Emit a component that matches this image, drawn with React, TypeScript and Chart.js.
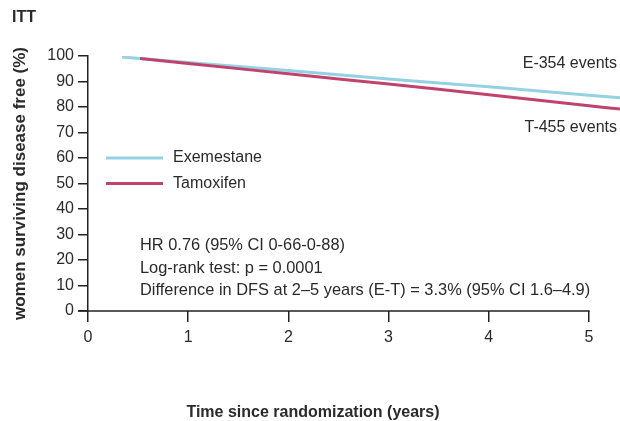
import React, { useEffect, useRef } from "react";
import { Chart, registerables } from "chart.js";

Chart.register(...registerables);

const exeTimes = [0.34, 1, 2, 3, 4, 5, 5.31];
const exeValues = [99.6, 97.5, 94.3, 91.0, 87.9, 84.6, 83.6];
const tamTimes = [0.52, 1, 2, 3, 4, 5, 5.31];
const tamValues = [99.0, 97.1, 93.0, 89.0, 84.8, 80.5, 79.2];

const seriesNames = ["Exemestane", "Tamoxifen"];
const seriesColors = ["#93d2e3", "#c0436e"];
const eventLabels = ["E-354 events", "T-455 events"];
const statLines = [
  "HR 0.76 (95% CI 0-66-0-88)",
  "Log-rank test: p = 0.0001",
  "Difference in DFS at 2–5 years (E-T) = 3.3% (95% CI 1.6–4.9)",
];
const xTicks = [0, 1, 2, 3, 4, 5];
const yTicks = [0, 10, 20, 30, 40, 50, 60, 70, 80, 90, 100];
const xAxisEnd = 5;
const xScaleMax = 5.31;
const panelTitle = "ITT";
const xTitle = "Time since randomization (years)";
const yTitle = "women surviving disease free (%)";

const FONT = "'Liberation Sans', Arial, Helvetica, sans-serif";
const TEXT = "#2a2a2a";
const AXIS = "#222";

const textPlugin = {
  id: "texts",
  afterDraw(chart: any) {
    const ctx = chart.ctx;
    const x = chart.scales.x;
    const y = chart.scales.y;
    ctx.save();
    // x axis line from y-axis to last tick
    ctx.strokeStyle = AXIS;
    ctx.lineWidth = 1.5;
    ctx.beginPath();
    ctx.moveTo(x.getPixelForValue(0) - 10, y.getPixelForValue(0));
    ctx.lineTo(x.getPixelForValue(xAxisEnd) + 0.75, y.getPixelForValue(0));
    ctx.stroke();

    ctx.fillStyle = TEXT;
    ctx.textBaseline = "middle";
    // panel title
    ctx.font = `bold 16px ${FONT}`;
    ctx.textAlign = "left";
    ctx.fillText(panelTitle, 12, 18);
    // y title
    ctx.save();
    ctx.translate(20, (y.top + y.bottom) / 2);
    ctx.rotate(-Math.PI / 2);
    ctx.textAlign = "center";
    ctx.font = `bold 17px ${FONT}`;
    ctx.fillText(yTitle, 0, 0);
    ctx.restore();
    // x title
    ctx.font = `bold 16px ${FONT}`;
    ctx.textAlign = "center";
    ctx.fillText(xTitle, 313, 413);
    // legend
    const legendYs = [y.getPixelForValue(60), y.getPixelForValue(50)];
    seriesNames.forEach((name, i) => {
      ctx.strokeStyle = seriesColors[i];
      ctx.lineWidth = 3;
      ctx.beginPath();
      ctx.moveTo(106, legendYs[i]);
      ctx.lineTo(163, legendYs[i]);
      ctx.stroke();
      ctx.font = `16px ${FONT}`;
      ctx.textAlign = "left";
      ctx.fillStyle = TEXT;
      ctx.fillText(name, 173, legendYs[i]);
    });
    // event labels
    ctx.textAlign = "right";
    ctx.font = `16px ${FONT}`;
    ctx.fillText(eventLabels[0], 617, 64);
    ctx.fillText(eventLabels[1], 617, 128);
    // stats
    ctx.textAlign = "left";
    ctx.font = `16.4px ${FONT}`;
    const statYs = [245, 268, 290];
    statLines.forEach((s, i) => ctx.fillText(s, 140, statYs[i]));
    ctx.restore();
  },
};

export default function App() {
  const ref = useRef<HTMLCanvasElement | null>(null);
  useEffect(() => {
    if (!ref.current) return;
    const chart = new Chart(ref.current, {
      type: "line",
      data: {
        datasets: [
          {
            label: seriesNames[1],
            data: tamTimes.map((t, i) => ({ x: t, y: tamValues[i] })),
            borderColor: seriesColors[1],
            borderWidth: 3,
            pointRadius: 0,
            tension: 0.3,
            order: 0,
          },
          {
            label: seriesNames[0],
            data: exeTimes.map((t, i) => ({ x: t, y: exeValues[i] })),
            borderColor: seriesColors[0],
            borderWidth: 3,
            pointRadius: 0,
            tension: 0.3,
            order: 1,
          },
        ],
      },
      plugins: [textPlugin],
      options: {
        animation: false,
        responsive: false,
        layout: { padding: { left: 0, right: 0, top: 56, bottom: 0 } },
        plugins: { legend: { display: false }, tooltip: { enabled: false } },
        scales: {
          x: {
            type: "linear",
            min: 0,
            max: xScaleMax,
            afterBuildTicks: (s: any) => {
              s.ticks = xTicks.map((v) => ({ value: v }));
            },
            afterFit: (s: any) => {
              s.height = 110;
            },
            grid: {
              drawOnChartArea: false,
              drawTicks: true,
              tickLength: 11,
              color: AXIS,
              lineWidth: 1.5,
            },
            border: { display: false },
            ticks: {
              color: TEXT,
              font: { family: FONT, size: 16 },
              padding: 6,
              maxRotation: 0,
            },
          },
          y: {
            type: "linear",
            min: 0,
            max: 100,
            afterBuildTicks: (s: any) => {
              s.ticks = yTicks.map((v) => ({ value: v }));
            },
            afterFit: (s: any) => {
              s.width = 88;
            },
            grid: {
              drawOnChartArea: false,
              drawTicks: true,
              tickLength: 10,
              color: AXIS,
              lineWidth: 1.5,
            },
            border: { color: AXIS, width: 1.5 },
            ticks: {
              color: TEXT,
              font: { family: FONT, size: 16 },
              padding: 4,
            },
          },
        },
      },
    });
    return () => chart.destroy();
  }, []);
  return (
    <div style={{ position: "fixed", left: 0, top: 0, width: 620, height: 421, background: "#fff" }}>
      <canvas ref={ref} width={620} height={421} style={{ width: 620, height: 421 }} />
    </div>
  );
}
